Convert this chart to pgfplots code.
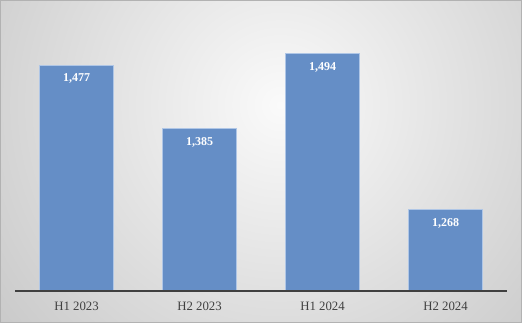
\documentclass[border=0pt]{standalone}
\usepackage{pgfplots}
\pgfplotsset{compat=1.18}
\usepackage{fontspec}
\setmainfont{Liberation Serif}
\definecolor{barfill}{RGB}{101,142,198}
\definecolor{baredge}{RGB}{175,198,230}
\definecolor{axisdark}{RGB}{64,64,64}
\definecolor{bginner}{RGB}{250,250,250}
\definecolor{bgouter}{RGB}{200,200,200}
\begin{document}
\begin{tikzpicture}
\useasboundingbox (-15pt,-32pt) rectangle (507pt,291pt);
\fill[bgouter] (-15pt,-32pt) rectangle (507pt,291pt);
\begin{scope}
\clip (-15pt,-32pt) rectangle (507pt,291pt);
\shade[inner color=bginner, outer color=bgouter] (265pt,186pt) circle (370pt);
\end{scope}
\draw[gray!60, line width=1pt] (-14.5pt,-31.5pt) rectangle (506.5pt,290.5pt);
\begin{axis}[
  at={(0,0)}, anchor=south west,
  scale only axis,
  width=492pt, height=276pt,
  xmin=-0.5, xmax=3.5,
  ymin=1150, ymax=1550,
  axis line style={draw=none},
  xtick=data,
  xticklabels={H1 2023, H2 2023, H1 2024, H2 2024},
  xtick style={draw=none},
  ytick=\empty,
  ticklabel style={font=\fontsize{12.8}{15}\selectfont, text=axisdark},
  xticklabel style={yshift=-3pt},
  ybar, bar width=74pt, bar shift=0pt,
  /pgf/number format/assume math mode=true,
  /pgf/number format/1000 sep={,},
  nodes near coords,
  every node near coord/.append style={anchor=north, inner sep=0pt, yshift=-8pt, text=white, font=\fontsize{12}{14}\selectfont\bfseries},
]
\addplot[fill=barfill, draw=baredge, line width=1pt] coordinates {(0,1477) (1,1385) (2,1494) (3,1268)};
\end{axis}
\draw[axisdark, line width=1.8pt] (0pt,0pt) -- (492pt,0pt);
\end{tikzpicture}
\end{document}
